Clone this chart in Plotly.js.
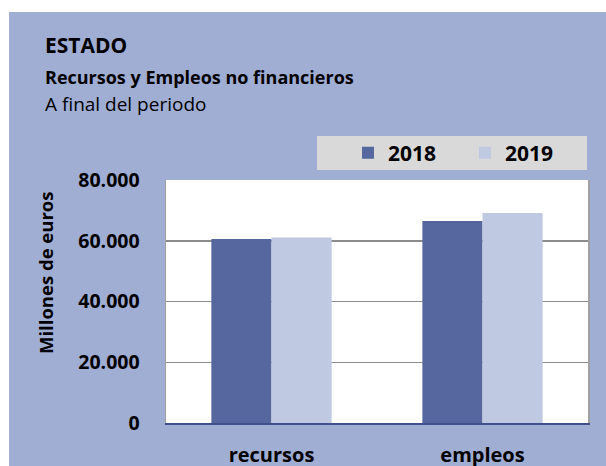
<!DOCTYPE html>
<html>
<head>
<meta charset="utf-8">
<script src="https://cdn.plot.ly/plotly-3.0.1.min.js"></script>
<style>html,body{margin:0;padding:0;background:#fff;}#chart{width:606px;height:466px;}</style>
</head>
<body>
<div id="chart"></div>
<script>
const categories = ["recursos", "empleos"];
const seriesNames = ["2018", "2019"];
const values2018 = [60600, 66500];
const values2019 = [61100, 69100];
const yTicks = [0, 20000, 40000, 60000, 80000];

const FONT = "Open Sans, sans-serif";
const BG = "#A1AED3";

// plot area in pixels: left 166, right 588, top 180, bottom 423
const L = 166, R = 588, T = 180, B = 423;
const W = 606, H = 466;
const px = x => (x - L) / (R - L);
const py = y => (B - y) / (B - T);

const traces = [
  {type: "bar", name: seriesNames[0], x: categories, y: values2018,
   marker: {color: "#55679E"}, hoverinfo: "none"},
  {type: "bar", name: seriesNames[1], x: categories, y: values2019,
   marker: {color: "#BFC9E1"}, hoverinfo: "none"}
];

const layout = {
  width: W, height: H,
  margin: {l: L, r: W - R, t: T, b: H - B, pad: 0},
  paper_bgcolor: BG,
  plot_bgcolor: "#FFFFFF",
  separators: ",.",
  barmode: "group",
  bargap: 0.43,
  bargroupgap: 0,
  font: {family: FONT, color: "#000"},
  showlegend: true,
  legend: {
    orientation: "h",
    x: px(348), xanchor: "left",
    y: py(153), yanchor: "middle",
    bgcolor: "rgba(0,0,0,0)",
    font: {family: FONT, size: 21, color: "#000", weight: "bold"},
    entrywidth: 72, entrywidthmode: "pixels",
    itemclick: false, itemdoubleclick: false
  },
  xaxis: {
    showgrid: false,
    showline: true, linecolor: "#3F4F8A", linewidth: 2,
    ticks: "", tickfont: {family: FONT, size: 20, weight: "bold", color: "#000"},
    ticklabelstandoff: 13,
    fixedrange: true
  },
  yaxis: {
    range: [0, 80000],
    tickvals: yTicks,
    tickformat: ",d",
    showgrid: true, gridcolor: "#8C8C8C", gridwidth: 1.5,
    showline: true, linecolor: "#A0A0A0", linewidth: 1.5, mirror: true,
    zeroline: false,
    ticks: "", tickfont: {family: FONT, size: 19.5, weight: "bold", color: "#000"},
    ticklabelstandoff: 21,
    fixedrange: true
  },
  shapes: [
    // white margins around the panel
    {type: "rect", xref: "paper", yref: "paper", x0: px(0), x1: px(W), y0: py(0), y1: py(12),
     fillcolor: "#FFFFFF", line: {width: 0}, layer: "above"},
    {type: "rect", xref: "paper", yref: "paper", x0: px(0), x1: px(9), y0: py(0), y1: py(H),
     fillcolor: "#FFFFFF", line: {width: 0}, layer: "above"},
    // legend box
    {type: "rect", xref: "paper", yref: "paper", x0: px(317), x1: px(587), y0: py(170), y1: py(136),
     fillcolor: "#D9D9D9", line: {width: 0}, layer: "below"}
  ],
  annotations: [
    {xref: "paper", yref: "paper", x: px(43), y: py(45), xanchor: "left", yanchor: "middle",
     text: "<b>ESTADO</b>", showarrow: false, font: {family: FONT, size: 21, color: "#000"}},
    {xref: "paper", yref: "paper", x: px(43), y: py(77), xanchor: "left", yanchor: "middle",
     text: "<b>Recursos y Empleos no financieros</b>", showarrow: false, font: {family: FONT, size: 18, color: "#000"}},
    {xref: "paper", yref: "paper", x: px(43), y: py(104), xanchor: "left", yanchor: "middle",
     text: "A final del periodo", showarrow: false, font: {family: FONT, size: 19, color: "#000"}},
    {xref: "paper", yref: "paper", x: px(45), y: py(272), xanchor: "center", yanchor: "middle",
     text: "<b>Millones de euros</b>", textangle: -90, showarrow: false, font: {family: FONT, size: 18.5, color: "#000"}}
  ]
};

Plotly.newPlot("chart", traces, layout, {displayModeBar: false, staticPlot: true});
</script>
</body>
</html>
